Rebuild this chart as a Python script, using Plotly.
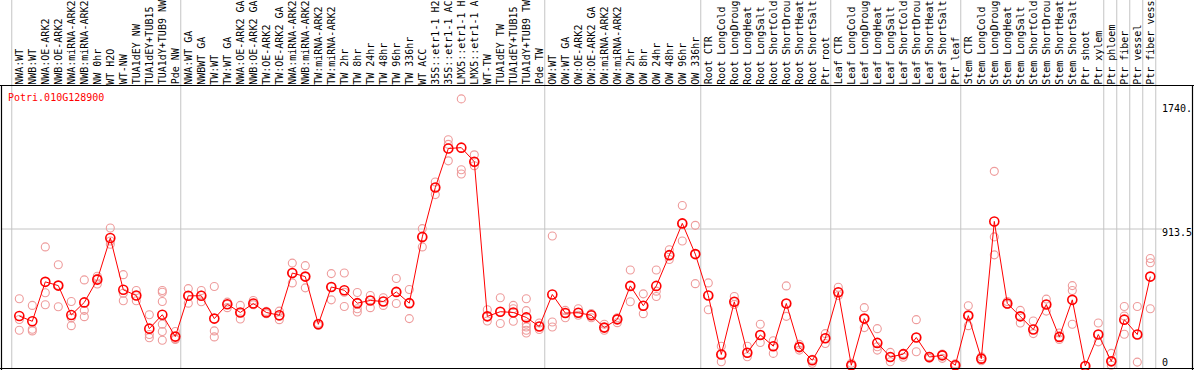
import plotly.graph_objects as go

gene = "Potri.010G128900"

categories = [
    "NWA:WT", "NWB:WT", "NWA:OE-ARK2", "NWB:OE-ARK2", "NWA:miRNA-ARK2", "NWB:miRNA-ARK2",
    "NW 0hr", "WT H2O", "WT-NW", "TUA1dEY NW", "TUA1dEY+TUB15", "TUA1dY+TUB9 NW", "Pde NW",
    "NWA:WT GA", "NWBWT GA", "TW:WT", "TW:WT GA", "NWA:OE-ARK2 GA", "NWB:OE-ARK2 GA",
    "TW:OE-ARK2", "TW:OE-ARK2 GA", "NWA:miRNA-ARK2", "NWB:miRNA-ARK2", "TW:miRNA-ARK2",
    "TW:miRNA-ARK2", "TW 2hr", "TW 8hr", "TW 24hr", "TW 48hr", "TW 96hr", "TW 336hr", "WT ACC",
    "35S::etr1-1 H2", "35S::etr1-1 AC", "LMX5::etr1-1 H", "LMX5::etr1-1 A", "WT-TW",
    "TUA1dEY TW", "TUA1dEY+TUB15", "TUA1dY+TUB9 TW", "Pde TW",
    "OW:WT", "OW:WT GA", "OW:OE-ARK2", "OW:OE-ARK2 GA", "OW:miRNA-ARK2", "OW:miRNA-ARK2",
    "OW 2hr", "OW 8hr", "OW 24hr", "OW 48hr", "OW 96hr", "OW 336hr",
    "Root CTR", "Root LongCold", "Root LongDroug", "Root LongHeat", "Root LongSalt",
    "Root ShortCold", "Root ShortDrou", "Root ShortHeat", "Root ShortSalt", "Ptr root",
    "Leaf CTR", "Leaf LongCold", "Leaf LongDroug", "Leaf LongHeat", "Leaf LongSalt",
    "Leaf ShortCold", "Leaf ShortDrou", "Leaf ShortHeat", "Leaf ShortSalt", "Ptr leaf",
    "Stem CTR", "Stem LongCold", "Stem LongDroug", "Stem LongHeat", "Stem LongSalt",
    "Stem ShortCold", "Stem ShortDrou", "Stem ShortHeat", "Stem ShortSalt", "Ptr shoot",
    "Ptr xylem", "Ptr phloem", "Ptr fiber", "Ptr vessel", "Ptr fiber vess",
]

group_sizes = [13, 28, 12, 10, 10, 11, 1, 1, 1, 1]

mean_values = [
    333, 298, 561, 536, 340, 424, 576, 854, 508, 470, 249, 342, 196,
    468, 468, 316, 412, 357, 417, 357, 338, 620, 596, 278, 527, 505, 419, 437, 430, 494, 419,
    861, 1190, 1450, 1456, 1362, 331, 362, 357, 324, 263,
    477, 353, 355, 338, 256, 311, 534, 402, 534, 739, 951, 746,
    470, 77, 428, 88, 207, 132, 417, 126, 38, 185,
    492, 5, 316, 154, 60, 79, 190, 60, 71, 5,
    336, 49, 964, 417, 331, 243, 410, 194, 441, 0, 210,
    31, 309, 210, 596,
]

replicates = [
    [448, 310, 238], [404, 245, 234], [794, 488, 408], [675, 538, 395], [430, 321, 269],
    [574, 371, 329], [598, 585, 547], [920, 834, 812], [609, 485, 435], [503, 468, 435],
    [342, 210, 188], [503, 492, 430, 278, 230, 172], [230, 181, 177],
    [516, 469, 419], [503, 473, 428], [530, 234, 194], [426, 410, 389], [404, 355, 313],
    [437, 415, 408], [364, 355, 349], [366, 331, 309], [686, 620, 554], [669, 596, 521],
    [285, 278, 271], [616, 527, 441], [620, 492, 397], [490, 419, 382, 360], [470, 437, 389],
    [455, 430, 404], [583, 494, 417], [510, 419, 316], [916, 861, 794], [1227, 1190, 1143],
    [1509, 1478, 1368], [1781, 1309, 1280], [1408, 1362, 1335], [375, 331, 300],
    [455, 362, 283], [404, 382, 357, 298], [448, 369, 280, 260, 238, 220], [287, 263, 243],
    [867, 293, 260], [371, 353, 322], [382, 355, 338], [349, 338, 322], [278, 256, 238],
    [322, 311, 289], [640, 534, 428], [481, 402, 349], [640, 499, 463], [775, 739, 710],
    [1070, 951, 834], [938, 746, 549],
    [554, 470, 375], [132, 77, 28], [463, 428, 410], [132, 88, 62], [278, 207, 157],
    [168, 132, 84], [534, 417, 331], [144, 126, 106], [44, 38, 18], [216, 185, 150],
    [525, 492, 470], [18, 5, 0], [389, 316, 256], [249, 128, 106], [91, 60, 28],
    [84, 79, 58], [309, 190, 95], [64, 60, 51], [79, 71, 51], [14, 5, 0],
    [402, 336, 269], [62, 49, 35], [1298, 861, 741], [430, 417, 410], [371, 331, 287],
    [300, 243, 216], [446, 410, 366], [220, 194, 177], [536, 503, 278], [0, 0, 0],
    [287, 210, 161], [84, 31, 5], [397, 333, 212], [397, 210, 26], [717, 688, 382],
]

y_tick_values = [0, 913.5, 1740]
y_tick_labels = ["0", "913.5", "1740."]

assert len(categories) == len(mean_values) == len(replicates) == 88

W, H = 1194, 370
X0_PX, STEP_PX = 19.3, 13.0          # pixel of first category, spacing
Y0_PX, UNITS_PER_PX = 366.0, 6.668   # pixel of value 0, value units per pixel
HEADER_PX = 85.5

x_idx = list(range(len(categories)))
x_range = [-X0_PX / STEP_PX, (W - X0_PX) / STEP_PX]
y_range = [-(H - Y0_PX) * UNITS_PER_PX, Y0_PX * UNITS_PER_PX]


def px_x(p):
    return p / W


def px_y(p):
    return 1 - p / H


RED = "#ff0000"
PINK = "#ee9c9c"
GRID = "#c4c4c4"
FONT = "DejaVu Sans Mono"

fig = go.Figure()

rx, ry = [], []
for i, reps in enumerate(replicates):
    for v in reps:
        rx.append(i)
        ry.append(v)

fig.add_trace(go.Scatter(
    x=rx, y=ry, mode="markers",
    marker=dict(symbol="circle-open", size=8, color=PINK, line=dict(width=1.1, color=PINK)),
    hoverinfo="skip", cliponaxis=False,
))
fig.add_trace(go.Scatter(
    x=x_idx, y=mean_values, mode="lines+markers",
    line=dict(color=RED, width=1),
    marker=dict(symbol="circle-open", size=9, color=RED, line=dict(width=1.6, color=RED)),
    text=categories, hovertemplate="%{text}: %{y}<extra></extra>", cliponaxis=False,
))

shapes = []
# group separators
b = 0
bounds = [0]
for g in group_sizes:
    b += g
    bounds.append(b)
for bd in bounds:
    xv = bd - 0.58
    shapes.append(dict(type="line", xref="x", yref="paper", x0=xv, x1=xv,
                       y0=px_y(368), y1=1, line=dict(color=GRID, width=1), layer="below"))
# horizontal gridline at middle tick
shapes.append(dict(type="line", xref="paper", yref="y", x0=px_x(1.5), x1=px_x(1162),
                   y0=y_tick_values[1], y1=y_tick_values[1], line=dict(color=GRID, width=1),
                   layer="below"))
# frame lines
shapes.append(dict(type="line", xref="paper", yref="paper", x0=0, x1=1,
                   y0=px_y(HEADER_PX), y1=px_y(HEADER_PX), line=dict(color="black", width=1)))
shapes.append(dict(type="line", xref="paper", yref="paper", x0=0, x1=1,
                   y0=px_y(368.5), y1=px_y(368.5), line=dict(color="black", width=1.2)))
shapes.append(dict(type="line", xref="paper", yref="paper", x0=px_x(1.5), x1=px_x(1.5),
                   y0=px_y(HEADER_PX), y1=0, line=dict(color="black", width=1.2)))
shapes.append(dict(type="line", xref="paper", yref="paper", x0=px_x(1192.5), x1=px_x(1192.5),
                   y0=px_y(HEADER_PX), y1=0, line=dict(color="black", width=1.2)))

annotations = []
for i, c in enumerate(categories):
    annotations.append(dict(
        x=i, xref="x", y=px_y(84.5), yref="paper", text=c, textangle=-90,
        showarrow=False, xanchor="center", yanchor="bottom", borderpad=0, borderwidth=0,
        font=dict(family=FONT, size=10, color="black"),
    ))
annotations.append(dict(
    x=px_x(8), xref="paper", y=px_y(97), yref="paper", text=gene, showarrow=False,
    xanchor="left", yanchor="middle", borderpad=0, borderwidth=0,
    font=dict(family=FONT, size=10, color=RED),
))
for v, t in zip(y_tick_values, y_tick_labels):
    shift = 3.7 if v == 0 else -3.5
    annotations.append(dict(
        x=px_x(1162), xref="paper", y=v, yref="y", yshift=shift, text=t, showarrow=False,
        xanchor="left", yanchor="middle", borderpad=0, borderwidth=0,
        font=dict(family=FONT, size=10, color="black"),
    ))

fig.update_layout(
    width=W, height=H, margin=dict(l=0, r=0, t=0, b=0),
    paper_bgcolor="white", plot_bgcolor="white", showlegend=False,
    xaxis=dict(range=x_range, visible=False, fixedrange=True),
    yaxis=dict(range=y_range, visible=False, fixedrange=True),
    shapes=shapes, annotations=annotations,
)

fig.write_html(
    "out.html",
    config={"displayModeBar": False},
    post_script="document.body.style.margin='0px';document.body.style.padding='0px';"
                "document.body.style.overflow='hidden';",
)
